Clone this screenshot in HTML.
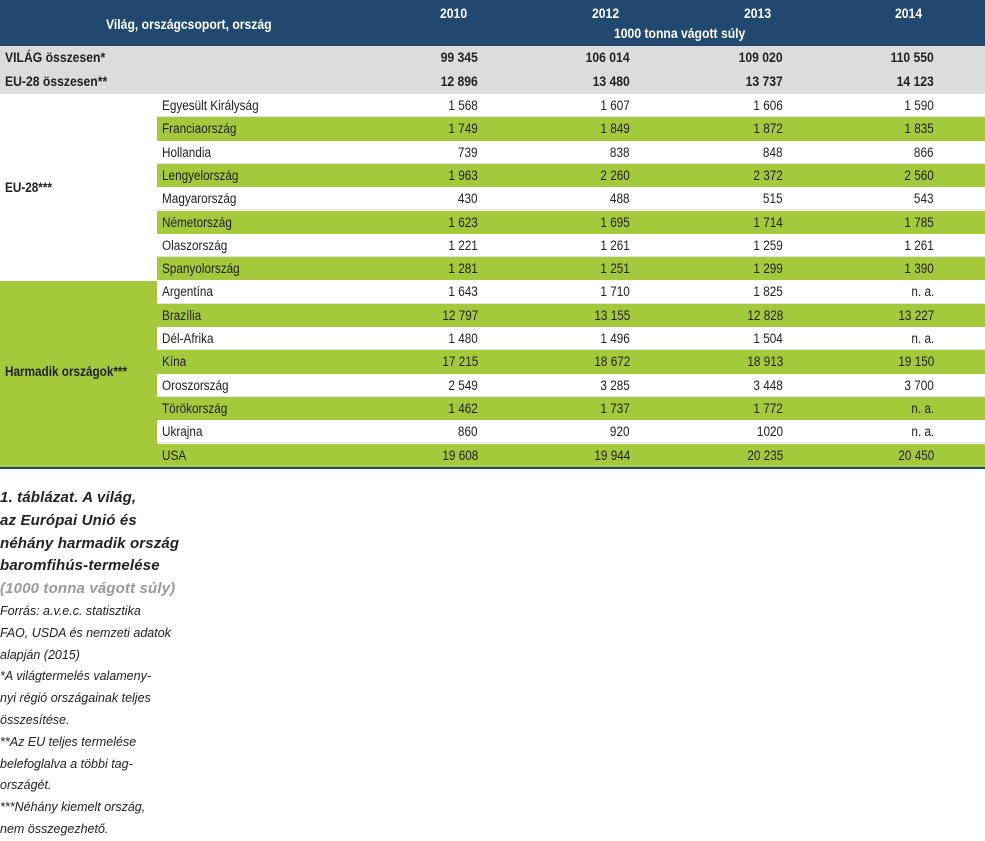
<!DOCTYPE html>
<html><head><meta charset="utf-8"><style>
body{margin:0;width:985px;height:841px;background:#fff;position:relative;overflow:hidden;font-family:"Liberation Sans",sans-serif;color:#222;}
.hdr{position:absolute;left:0;top:0;width:985px;height:46px;background:#21486f;color:#fff;font-weight:bold;font-size:14px;}
.hdr span{position:absolute;transform:scaleX(0.87);transform-origin:left top;}
.r{position:absolute;height:23.3px;line-height:23px;font-size:13.5px;}
.g{background:#a4c93b;}
.w{background:#fff;border-bottom:1px solid #e4e4e4;box-sizing:border-box;}
.gr{background:#dcdcdd;font-weight:bold;font-size:14px;}
.r span{position:absolute;transform:scaleX(0.87);transform-origin:left center;}
.r span.n1,.r span.n2,.r span.n3,.r span.n4{transform-origin:right center;}
.n1{right:507px}.n2{right:355px}.n3{right:202px}.n4{right:51px}
.lab{position:absolute;left:5px;font-weight:bold;font-size:13.5px;transform:scaleX(0.87);transform-origin:left top;}
.cap{position:absolute;left:0;top:487px;font-family:"Liberation Sans",sans-serif;font-style:italic;font-size:12.5px;line-height:21.8px;color:#222;}
.cap b{font-size:15px;letter-spacing:0.15px;}
</style></head><body>
<div class="hdr">
<span style="left:106px;top:16px">Világ, országcsoport, ország</span>
<span style="left:440px;top:5px">2010</span>
<span style="left:592px;top:5px">2012</span>
<span style="left:744px;top:5px">2013</span>
<span style="left:895px;top:5px">2014</span>
<span style="left:614px;top:25px">1000 tonna vágott súly</span>
</div>
<div class="r gr" style="left:0;top:46px;width:985px;height:24px"><span style="left:5px">VILÁG összesen*</span><span class="n1">99 345</span><span class="n2">106 014</span><span class="n3">109 020</span><span class="n4">110 550</span></div>
<div class="r gr" style="left:0;top:70px;width:985px;height:24px"><span style="left:5px">EU-28 összesen**</span><span class="n1">12 896</span><span class="n2">13 480</span><span class="n3">13 737</span><span class="n4">14 123</span></div>

<div class="lab" style="top:180px">EU-28***</div>
<div style="position:absolute;left:0;top:281px;width:157px;height:186px;background:#a4c93b"></div>
<div class="lab" style="top:364px">Harmadik országok***</div>

<div class="r w" style="left:157px;top:94px;width:828px"><span style="left:5px">Egyesült Királyság</span><span class="n1">1 568</span><span class="n2">1 607</span><span class="n3">1 606</span><span class="n4">1 590</span></div>
<div class="r g" style="left:157px;top:117.3px;width:828px"><span style="left:5px">Franciaország</span><span class="n1">1 749</span><span class="n2">1 849</span><span class="n3">1 872</span><span class="n4">1 835</span></div>
<div class="r w" style="left:157px;top:140.6px;width:828px"><span style="left:5px">Hollandia</span><span class="n1">739</span><span class="n2">838</span><span class="n3">848</span><span class="n4">866</span></div>
<div class="r g" style="left:157px;top:163.9px;width:828px"><span style="left:5px">Lengyelország</span><span class="n1">1 963</span><span class="n2">2 260</span><span class="n3">2 372</span><span class="n4">2 560</span></div>
<div class="r w" style="left:157px;top:187.2px;width:828px"><span style="left:5px">Magyarország</span><span class="n1">430</span><span class="n2">488</span><span class="n3">515</span><span class="n4">543</span></div>
<div class="r g" style="left:157px;top:210.5px;width:828px"><span style="left:5px">Németország</span><span class="n1">1 623</span><span class="n2">1 695</span><span class="n3">1 714</span><span class="n4">1 785</span></div>
<div class="r w" style="left:157px;top:233.8px;width:828px"><span style="left:5px">Olaszország</span><span class="n1">1 221</span><span class="n2">1 261</span><span class="n3">1 259</span><span class="n4">1 261</span></div>
<div class="r g" style="left:157px;top:257.1px;width:828px"><span style="left:5px">Spanyolország</span><span class="n1">1 281</span><span class="n2">1 251</span><span class="n3">1 299</span><span class="n4">1 390</span></div>
<div class="r w" style="left:157px;top:280.4px;width:828px"><span style="left:5px">Argentína</span><span class="n1">1 643</span><span class="n2">1 710</span><span class="n3">1 825</span><span class="n4">n. a.</span></div>
<div class="r g" style="left:157px;top:303.7px;width:828px"><span style="left:5px">Brazília</span><span class="n1">12 797</span><span class="n2">13 155</span><span class="n3">12 828</span><span class="n4">13 227</span></div>
<div class="r w" style="left:157px;top:327px;width:828px"><span style="left:5px">Dél-Afrika</span><span class="n1">1 480</span><span class="n2">1 496</span><span class="n3">1 504</span><span class="n4">n. a.</span></div>
<div class="r g" style="left:157px;top:350.3px;width:828px"><span style="left:5px">Kína</span><span class="n1">17 215</span><span class="n2">18 672</span><span class="n3">18 913</span><span class="n4">19 150</span></div>
<div class="r w" style="left:157px;top:373.6px;width:828px"><span style="left:5px">Oroszország</span><span class="n1">2 549</span><span class="n2">3 285</span><span class="n3">3 448</span><span class="n4">3 700</span></div>
<div class="r g" style="left:157px;top:396.9px;width:828px"><span style="left:5px">Törökország</span><span class="n1">1 462</span><span class="n2">1 737</span><span class="n3">1 772</span><span class="n4">n. a.</span></div>
<div class="r w" style="left:157px;top:420.2px;width:828px"><span style="left:5px">Ukrajna</span><span class="n1">860</span><span class="n2">920</span><span class="n3">1020</span><span class="n4">n. a.</span></div>
<div class="r g" style="left:157px;top:443.5px;width:828px"><span style="left:5px">USA</span><span class="n1">19 608</span><span class="n2">19 944</span><span class="n3">20 235</span><span class="n4">20 450</span></div>
<div style="position:absolute;left:0;top:467px;width:985px;height:2px;background:#21486f"></div>

<div class="cap">
<b>1. táblázat. A világ,</b><br>
<b>az Európai Unió és</b><br>
<b>néhány harmadik ország</b><br>
<b>baromfihús-termelése</b><br>
<b style="color:#999">(1000 tonna vágott súly)</b><br>
Forrás: a.v.e.c. statisztika<br>
FAO, USDA és nemzeti adatok<br>
alapján (2015)<br>
*A világtermelés valameny-<br>
nyi régió országainak teljes<br>
összesítése.<br>
**Az EU teljes termelése<br>
belefoglalva a többi tag-<br>
országét.<br>
***Néhány kiemelt ország,<br>
nem összegezhető.
</div>
</body></html>
